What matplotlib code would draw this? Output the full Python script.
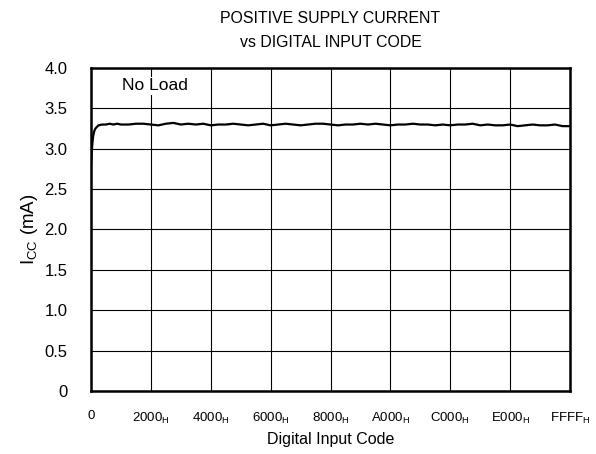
import matplotlib
matplotlib.use("Agg")
import matplotlib.pyplot as plt

plt.rcParams['font.family'] = ['Liberation Sans', 'DejaVu Sans']
plt.rcParams['mathtext.fontset'] = 'custom'
plt.rcParams['mathtext.rm'] = 'Liberation Sans'
plt.rcParams['mathtext.it'] = 'Liberation Sans'

codes = [0, 100, 200, 300, 450, 600, 800, 1024, 1536, 2048, 2560, 3072, 3584, 4096,
         5120, 6144, 7168, 8192, 9216, 10240, 11264, 12288, 13312, 14336, 15360,
         16384, 17408, 18432, 19456, 20480, 21504, 22528, 23552, 24576, 25600,
         26624, 27648, 28672, 29696, 30720, 31744, 32768, 33792, 34816, 35840,
         36864, 37888, 38912, 39936, 40960, 41984, 43008, 44032, 45056, 46080,
         47104, 48128, 49152, 50176, 51200, 52224, 53248, 54272, 55296, 56320,
         57344, 58368, 59392, 60416, 61440, 62464, 63488, 64512, 65535]
icc = [2.80, 2.95, 3.08, 3.16, 3.22, 3.25, 3.27, 3.29, 3.30, 3.30, 3.31, 3.30, 3.31, 3.30,
       3.30, 3.31, 3.31, 3.30, 3.29, 3.31, 3.32, 3.30, 3.31, 3.30, 3.31,
       3.29, 3.30, 3.30, 3.31, 3.30, 3.29, 3.30, 3.31, 3.29, 3.30,
       3.31, 3.30, 3.29, 3.30, 3.31, 3.31, 3.30, 3.29, 3.30, 3.30,
       3.31, 3.30, 3.31, 3.30, 3.29, 3.30, 3.30, 3.31, 3.30, 3.30,
       3.29, 3.30, 3.29, 3.30, 3.30, 3.31, 3.29, 3.30, 3.29, 3.29,
       3.30, 3.28, 3.29, 3.30, 3.29, 3.29, 3.30, 3.28, 3.28]

xticks = [0, 8192, 16384, 24576, 32768, 40960, 49152, 57344, 65535]
xlabels = ['0', '2000', '4000', '6000', '8000', 'A000', 'C000', 'E000', 'FFFF']
yticks = [0, 0.5, 1.0, 1.5, 2.0, 2.5, 3.0, 3.5, 4.0]
ylabels = ['0', '0.5', '1.0', '1.5', '2.0', '2.5', '3.0', '3.5', '4.0']

fig = plt.figure(figsize=(5.96, 4.54), dpi=100)
ax = fig.add_axes([0.1527, 0.1388, 0.8037, 0.7114])

ax.plot(codes, icc, color='black', lw=1.6)

ax.set_xlim(0, 65535)
ax.set_ylim(0, 4.0)
ax.set_xticks(xticks)
ax.set_xticklabels([l if l == '0' else l + r'$_\mathregular{H}$' for l in xlabels],
                   fontsize=9.5)
ax.set_yticks(yticks)
ax.set_yticklabels(ylabels, fontsize=12)
ax.tick_params(length=0)
ax.tick_params(axis='x', pad=14)
ax.tick_params(axis='y', pad=17)
ax.grid(True, color='black', lw=0.8)
for s in ax.spines.values():
    s.set_linewidth(1.8)

ax.set_xlabel('Digital Input Code', fontsize=11.5, labelpad=5)
ax.set_ylabel(r'I$_\mathregular{CC}$ (mA)', fontsize=13.5, labelpad=3)
ax.set_title('POSITIVE SUPPLY CURRENT\nvs DIGITAL INPUT CODE', fontsize=11.4,
             linespacing=1.75, pad=15)

ax.text(8700, 3.78, 'No Load', fontsize=12.5, ha='center', va='center',
        bbox=dict(facecolor='white', edgecolor='none', pad=1))

fig.savefig('out.png', dpi=100)
